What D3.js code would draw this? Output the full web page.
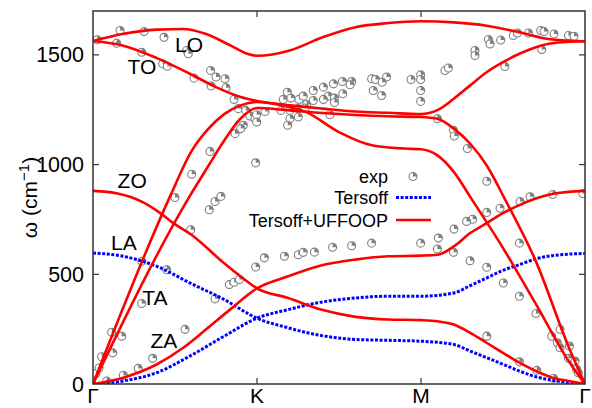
<!DOCTYPE html>
<html>
<head>
<meta charset="utf-8">
<script src="https://cdn.jsdelivr.net/npm/d3@7"></script>
<style>
  body { margin: 0; background: #fff; }
  svg text { font-family: "Liberation Sans", Arial, sans-serif; fill: #000; }
</style>
</head>
<body>
<svg id="chart" width="592" height="408"></svg>
<script>
// path positions along Γ-K-M-Γ (equal spacing), frequencies in cm^-1
var kLabels = ["Γ", "K", "M", "Γ"];
var kPos    = [0, 1, 2, 3];
var yTicks  = [0, 500, 1000, 1500];

// Tersoff+UFFOOP branches [q, omega]
var uffLO = [[0,1563],[0.18,1595],[0.39,1615],[0.55,1618],[0.69,1595],[0.84,1542],[0.94,1505],[1,1496],
  [1.2,1520],[1.4,1580],[1.6,1626],[1.8,1645],[2,1653],[2.2,1648],[2.4,1633],[2.6,1603],[2.8,1570],[3,1562]];
var uffTO = [[0,1563],[0.185,1542],[0.39,1485],[0.59,1414],[0.75,1353],[0.9,1308],[1,1290],
  [1.2,1270],[1.4,1255],[1.6,1242],[1.8,1236],[2,1230],[2.1,1248],[2.2,1300],[2.3,1361],[2.4,1421],
  [2.5,1467],[2.6,1505],[2.7,1535],[2.8,1553],[3,1562]];
var uffLA = [[0,0],[0.47,855],[0.6,1060],[0.7,1160],[0.8,1230],[0.9,1270],[1,1285],
  [1.15,1270],[1.3,1239],[1.5,1148],[1.7,1088],[1.9,1073],[2,1070],[2.1,1042],[2.2,967],[2.3,853],
  [2.5,620],[2.7,365],[2.9,105],[3,0]];
var uffTA = [[0,0],[0.589,855],[0.7,990],[0.8,1110],[0.9,1210],[1,1258],
  [1.2,1247],[1.4,1235],[1.6,1226],[1.8,1220],[2,1217],[2.1,1209],[2.2,1164],[2.3,1095],[2.4,997],
  [2.51,845],[2.7,560],[2.9,170],[3,0]];
var uffZO = [[0,880],[0.15,868],[0.3,830],[0.41,779],[0.49,733],[0.6,680],[0.8,550],[0.9,490],[1,436],
  [1.19,392],[1.39,339],[1.6,306],[1.8,294],[2,291],[2.1,286],[2.2,271],[2.3,233],[2.4,188],
  [2.5,142],[2.6,97],[2.7,59],[2.8,29],[2.9,14],[3,0]];
var uffZA = [[0,0],[0.185,29],[0.39,90],[0.55,165],[0.69,249],[0.835,339],[1,436],
  [1.19,491],[1.39,540],[1.6,567],[1.8,582],[2,585],[2.1,589],[2.2,627],[2.3,688],[2.4,733],
  [2.5,779],[2.6,815],[2.7,845],[2.8,866],[3,880]];

// Tersoff branches (out-of-plane; in-plane coincide with the red ones)
var terZO = [[0,597],[0.185,582],[0.39,536],[0.59,461],[0.8,385],[1,300],
  [1.19,256],[1.39,221],[1.6,203],[1.8,199],[2,195],[2.2,180],[2.3,150],[2.4,120],[2.5,90],
  [2.6,59],[2.7,33],[2.8,17],[3,0]];
var terZA = [[0,0],[0.185,14],[0.39,52],[0.59,127],[0.8,218],[1,300],
  [1.19,339],[1.39,373],[1.6,392],[1.8,400],[2,400],[2.2,415],[2.3,448],[2.4,483],[2.5,518],
  [2.6,544],[2.7,570],[2.8,585],[3,595]];

// experiment
var expQ = [0.026,0.165,0.144,0.311,0.297,0.433,0.425,0.453,0.571,0.581,0.616,0.717,0.750,0.720,0.805,0.811,
  0.860,0.886,0.931,0.957,0.988,0.917,0.901,0.866,0.713,0.992,0.602,0.5,0.744,0.78,0.709,0.596,
  0.297,0.449,0.744,0.831,0.860,0.893,0.992,0.297,0.114,0.175,0.561,0.120,0.053,0.364,0.276,0.185,0.083,0.018,0.037,
  0.998,0.998,1.049,1.185,1.160,1.207,1.256,1.282,1.343,1.405,1.466,1.521,1.577,1.567,1.523,1.435,1.405,1.472,
  1.343,1.472,1.303,1.146,1.201,1.252,1.293,1.201,1.252,1.187,1.445,1.699,1.723,1.790,1.709,1.763,1.760,
  1.939,1.998,1.998,1.998,1.998,
  1.045,1.167,1.252,1.282,1.350,1.461,1.577,1.699,1.998,
  2.146,2.167,2.329,2.329,2.411,2.421,2.486,2.563,2.588,2.655,2.730,2.750,2.811,2.899,2.933,2.736,2.512,
  2.100,2.198,2.203,2.283,2.401,2.665,2.803,2.986,
  2.604,2.482,2.401,2.315,2.278,2.201,2.106,2.100,2.198,2.299,2.401,2.502,2.600,2.600,2.701,2.401,2.600,
  2.706,2.808,2.797,2.848,2.831,2.848,2.905,2.899,2.939,2.949,2.959,3.0];
var expW = [1569,1611,1553,1606,1512,1580,1459,1448,1520,1505,1394,1429,1399,1358,1391,1350,
  1297,1255,1247,1221,1209,1179,1164,1141,1060,1008,956,850,832,855,794,703,
  559,521,388,453,464,476,533,367,236,218,249,142,124,117,71,40,14,48,73,
  1227,1194,1242,1330,1297,1303,1297,1312,1338,1353,1368,1379,1379,1364,1323,1312,1297,1303,
  1292,1283,1274,1247,1247,1255,1258,1209,1217,1179,1227,1391,1388,1399,1338,1375,1315,
  1388,1409,1388,1338,1288,
  575,582,589,600,601,623,630,642,642,
  1429,1440,1520,1497,1570,1550,1568,1588,1600,1600,1611,1606,1595,1588,1585,1524,1447,
  1209,1156,1130,1073,924,853,864,868,
  832,801,782,751,741,706,665,615,600,562,532,460,642,400,321,218,101,
  62,26,218,249,188,165,173,117,105,67,51,2];

var legendNames = ["exp", "Tersoff", "Tersoff+UFFOOP"];
var modeLabels = [["LO",0.50,1513],["TO",0.21,1415],["ZO",0.15,893],["LA",0.11,610],["TA",0.30,360],["ZA",0.35,164]];

var svg = d3.select("#chart");
var pL = 93, pR = 585, pT = 11, pB = 384;

var x = d3.scaleLinear().domain([0, 3]).range([pL, pR]);
var y = d3.scaleLinear().domain([0, 1700]).range([pB, pT]);

svg.append("clipPath").attr("id", "clip")
  .append("rect").attr("x", pL).attr("y", pT).attr("width", pR - pL).attr("height", pB - pT);

var plot = svg.append("g").attr("clip-path", "url(#clip)");

// exp points: grey open circle with a filled wedge
var r = 4;
var wedge = d3.arc().innerRadius(0).outerRadius(r).startAngle(0).endAngle(Math.PI / 2);
var pts = plot.selectAll(".pt").data(expQ).enter().append("g")
  .attr("class", "pt")
  .attr("transform", function(d, i) { return "translate(" + x(d) + "," + y(expW[i]) + ")"; });
pts.append("circle").attr("r", r).attr("fill", "#fff").attr("stroke", "#808080").attr("stroke-width", 1.1);
pts.append("path").attr("d", wedge).attr("fill", "#808080");

var line = d3.line()
  .x(function(d) { return x(d[0]); })
  .y(function(d) { return y(d[1]); })
  .curve(d3.curveMonotoneX);

[terZO, terZA].forEach(function(b) {
  plot.append("path").attr("d", line(b)).attr("fill", "none")
    .attr("stroke", "#0000ff").attr("stroke-width", 3).attr("stroke-dasharray", "3,1.6");
});
[uffLO, uffTO, uffLA, uffTA, uffZO, uffZA].forEach(function(b) {
  plot.append("path").attr("d", line(b)).attr("fill", "none")
    .attr("stroke", "#ff0000").attr("stroke-width", 2.6);
});

// frame and ticks
svg.append("rect").attr("x", pL).attr("y", pT).attr("width", pR - pL).attr("height", pB - pT)
  .attr("fill", "none").attr("stroke", "#333").attr("stroke-width", 1.5);

var tl = 6;
yTicks.slice(1).forEach(function(t) {
  svg.append("line").attr("x1", pL).attr("x2", pL + tl).attr("y1", y(t)).attr("y2", y(t)).attr("stroke", "#333").attr("stroke-width", 1.2);
  svg.append("line").attr("x1", pR).attr("x2", pR - tl).attr("y1", y(t)).attr("y2", y(t)).attr("stroke", "#333").attr("stroke-width", 1.2);
});
kPos.slice(1, 3).forEach(function(k) {
  svg.append("line").attr("x1", x(k)).attr("x2", x(k)).attr("y1", pB).attr("y2", pB - tl).attr("stroke", "#333").attr("stroke-width", 1.2);
  svg.append("line").attr("x1", x(k)).attr("x2", x(k)).attr("y1", pT).attr("y2", pT + tl).attr("stroke", "#333").attr("stroke-width", 1.2);
});

svg.selectAll(".ytl").data(yTicks).enter().append("text")
  .attr("x", pL - 9).attr("y", function(d) { return y(d) + 7.5; })
  .attr("text-anchor", "end").style("font-size", "21.5px").text(function(d) { return d; });

svg.selectAll(".xtl").data(kPos).enter().append("text")
  .attr("x", function(d) { return x(d); }).attr("y", 403)
  .attr("text-anchor", "middle").style("font-size", "21px").text(function(d, i) { return kLabels[i]; });

var yl = svg.append("text").attr("transform", "translate(37," + ((pT + pB) / 2) + ") rotate(-90)")
  .attr("text-anchor", "middle").style("font-size", "21px");
yl.append("tspan").text("ω  (cm");
yl.append("tspan").attr("dy", -8).style("font-size", "15px").text("−1");
yl.append("tspan").attr("dy", 8).text(")");

// mode labels
svg.selectAll(".ml").data(modeLabels).enter().append("text")
  .attr("x", function(d) { return x(d[1]); }).attr("y", function(d) { return y(d[2]); })
  .style("font-size", "21px").text(function(d) { return d[0]; });

// legend
var lg = svg.append("g").style("font-size", "18px");
var lx = 388, ly = [176.5, 197.5, 220];
legendNames.forEach(function(n, i) {
  lg.append("text").attr("x", lx).attr("y", ly[i] + 6.5).attr("text-anchor", "end").text(n);
});
var lm = lg.append("g").attr("transform", "translate(413," + ly[0] + ")");
lm.append("circle").attr("r", r).attr("fill", "#fff").attr("stroke", "#808080").attr("stroke-width", 1.1);
lm.append("path").attr("d", wedge).attr("fill", "#808080");
lg.append("line").attr("x1", 396).attr("x2", 431).attr("y1", ly[1]).attr("y2", ly[1])
  .attr("stroke", "#0000ff").attr("stroke-width", 3).attr("stroke-dasharray", "3,1.6");
lg.append("line").attr("x1", 396).attr("x2", 431).attr("y1", ly[2]).attr("y2", ly[2])
  .attr("stroke", "#ff0000").attr("stroke-width", 2.6);
</script>
</body>
</html>
